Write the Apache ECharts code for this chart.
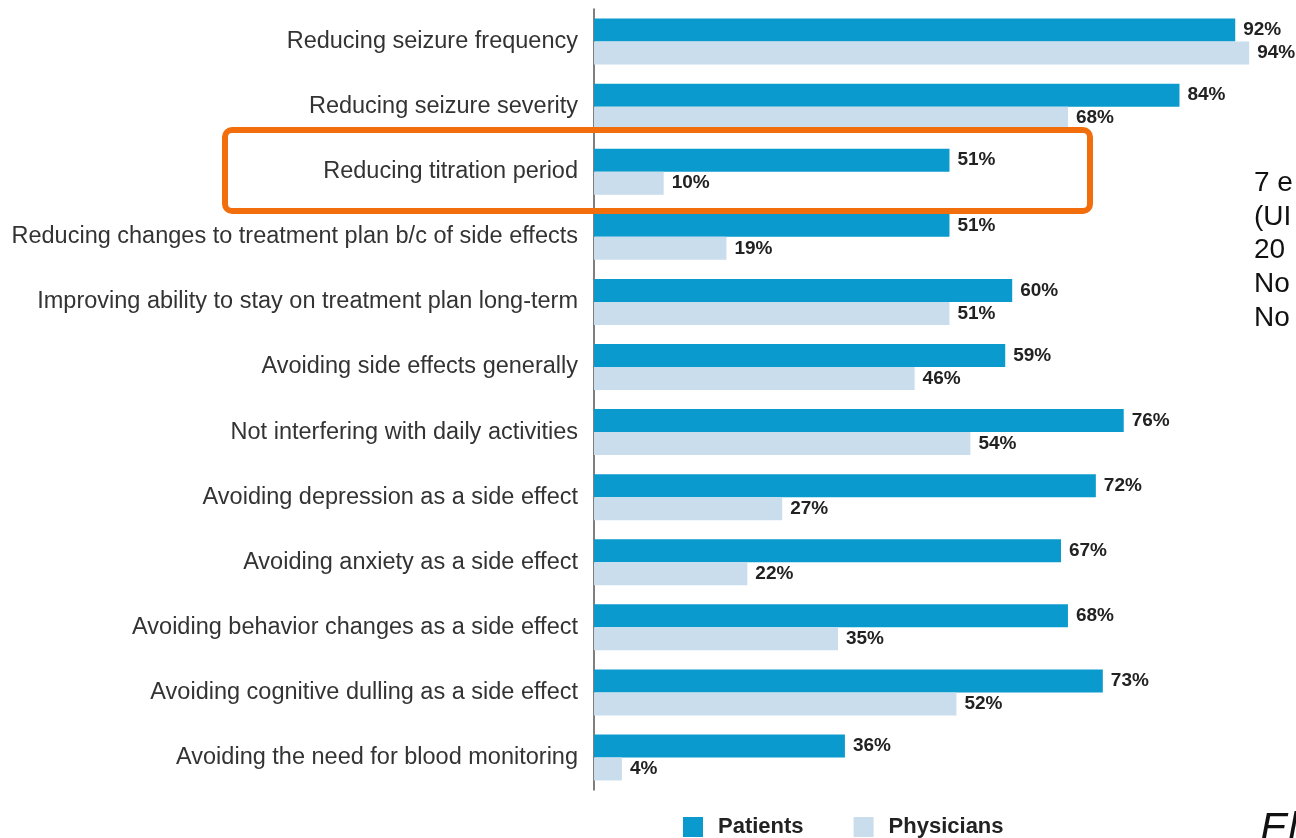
<!DOCTYPE html>
<html>
<head>
<meta charset="utf-8">
<title>Treatment priorities: patients vs physicians</title>
<script src="https://cdn.jsdelivr.net/npm/echarts@6/dist/echarts.min.js"></script>
<style>
  html, body { margin: 0; padding: 0; background: #ffffff; }
  #chart { width: 1296px; height: 838px; }
</style>
</head>
<body>
<div id="chart"></div>
<script>
// Treatment goals rated important, by respondent group (%)
const categories = [
  'Reducing seizure frequency',
  'Reducing seizure severity',
  'Reducing titration period',
  'Reducing changes to treatment plan b/c of side effects',
  'Improving ability to stay on treatment plan long-term',
  'Avoiding side effects generally',
  'Not interfering with daily activities',
  'Avoiding depression as a side effect',
  'Avoiding anxiety as a side effect',
  'Avoiding behavior changes as a side effect',
  'Avoiding cognitive dulling as a side effect',
  'Avoiding the need for blood monitoring'
];
const patients   = [92, 84, 51, 51, 60, 59, 76, 72, 67, 68, 73, 36];
const physicians = [94, 68, 10, 19, 51, 46, 54, 27, 22, 35, 52, 4];
const seriesNames = ['Patients', 'Physicians'];
const sideNotes = ['7 e', '(UI', '20', 'No', 'No'];

const chart = echarts.init(document.getElementById('chart'), null, { renderer: 'canvas' });

const valueLabel = {
  show: true,
  position: 'right',
  distance: 8,
  formatter: '{c}%',
  fontFamily: 'Liberation Sans, Arial, sans-serif',
  fontWeight: 'bold',
  fontSize: 19,
  color: '#222222'
};

const noteY = [183, 217, 250, 284, 318];

chart.setOption({
  backgroundColor: '#ffffff',
  animation: false,
  grid: { left: 594, right: 5, top: 9, bottom: 48, containLabel: false },
  xAxis: {
    type: 'value',
    min: 0,
    max: 100,
    show: false
  },
  yAxis: {
    type: 'category',
    data: categories,
    inverse: true,
    axisLine: { show: true, lineStyle: { color: '#555555', width: 1.5 } },
    axisTick: { show: false },
    axisLabel: {
      margin: 16,
      fontFamily: 'Liberation Sans, Arial, sans-serif',
      fontSize: 23.5,
      color: '#333333'
    }
  },
  legend: {
    left: 683,
    top: 816,
    padding: 0,
    itemWidth: 20,
    itemHeight: 20,
    itemGap: 50,
    icon: 'rect',
    data: seriesNames,
    textStyle: {
      fontFamily: 'Liberation Sans, Arial, sans-serif',
      fontWeight: 'bold',
      fontSize: 22,
      color: '#222222',
      padding: [0, 0, 0, 10]
    }
  },
  series: [
    {
      name: seriesNames[0],
      type: 'bar',
      data: patients,
      barWidth: 23,
      barGap: '0%',
      itemStyle: { color: '#0b9acd' },
      label: valueLabel
    },
    {
      name: seriesNames[1],
      type: 'bar',
      data: physicians,
      barWidth: 23,
      barGap: '0%',
      itemStyle: { color: '#c9dded' },
      label: valueLabel
    }
  ],
  graphic: [
    {
      type: 'rect',
      shape: { x: 225, y: 130, width: 865, height: 81, r: 7 },
      style: { fill: 'none', stroke: '#f26d0c', lineWidth: 6 },
      z: 10
    },
    ...sideNotes.map((t, i) => ({
      type: 'text',
      x: 1254,
      y: noteY[i],
      style: {
        text: t,
        fontFamily: 'Liberation Sans, Arial, sans-serif',
        fontSize: 28,
        fill: '#111111',
        verticalAlign: 'middle'
      }
    })),
    {
      type: 'text',
      x: 1260,
      y: 809,
      style: {
        text: 'El',
        fontFamily: 'Liberation Sans, Arial, sans-serif',
        fontStyle: 'italic',
        fontSize: 42,
        fill: '#111111',
        verticalAlign: 'top'
      }
    }
  ]
});
</script>
</body>
</html>
